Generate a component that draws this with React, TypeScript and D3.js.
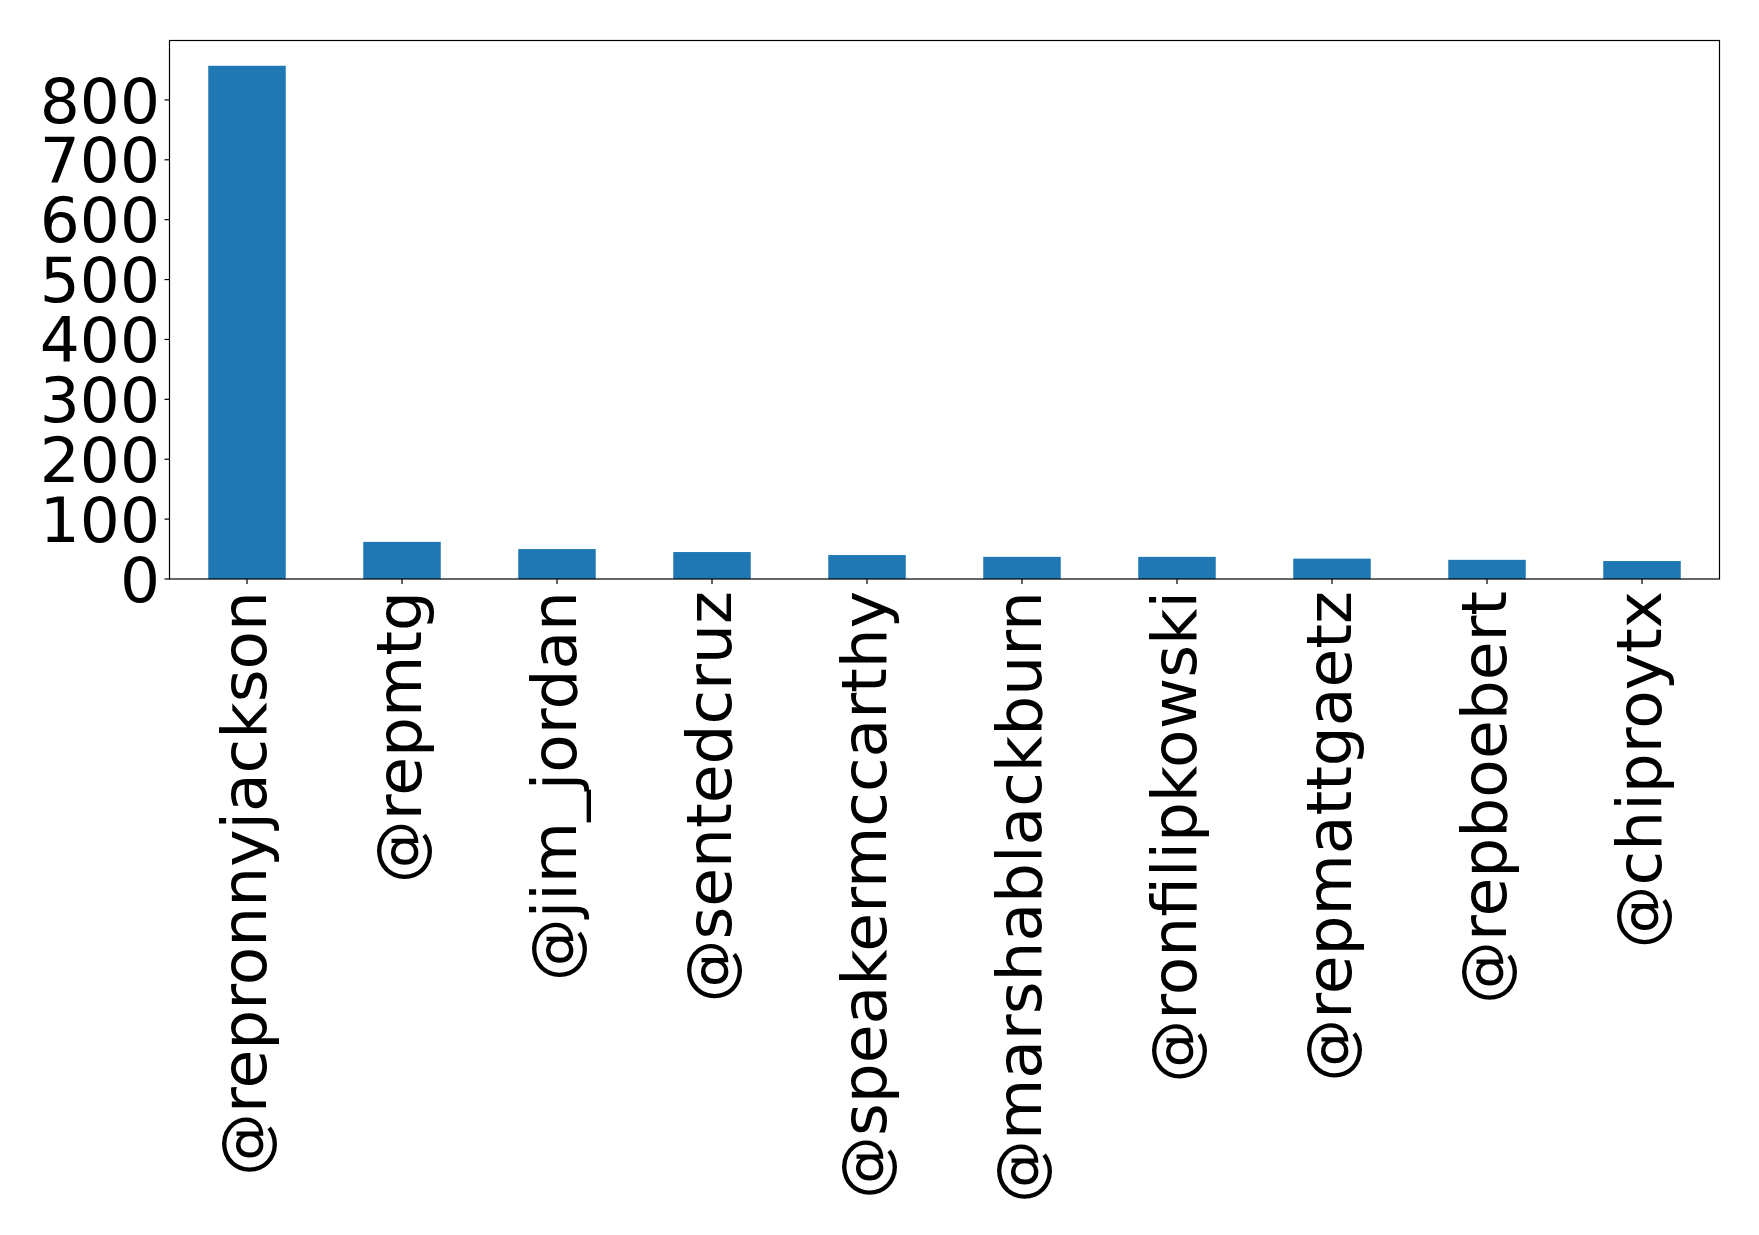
import React from "react";
import * as d3 from "d3";

const categories = [
  "@repronnyjackson",
  "@repmtg",
  "@jim_jordan",
  "@sentedcruz",
  "@speakermccarthy",
  "@marshablackburn",
  "@ronfilipkowski",
  "@repmattgaetz",
  "@repboebert",
  "@chiproytx",
];
const counts = [857, 62, 50, 45, 40, 37, 37, 34, 32, 30];
const yTicks = [0, 100, 200, 300, 400, 500, 600, 700, 800];

const W = 1759;
const H = 1235;
const left = 169.5;
const right = 1719.5;
const top = 40.5;
const bottom = 579;
const FONT = "'DejaVu Sans', sans-serif";
const FS = 63;

export default function App() {
  const x = d3
    .scaleLinear()
    .domain([-0.5, categories.length - 0.5])
    .range([left, right]);
  const y = d3.scaleLinear().domain([0, 899.2]).range([bottom, top]);
  const bw = x(0.25) - x(-0.25);

  return (
    <svg
      width={W}
      height={H}
      style={{ position: "absolute", left: 0, top: 0, background: "#fff" }}
    >
      <rect x={0} y={0} width={W} height={H} fill="#fff" />
      {counts.map((v, i) => (
        <rect
          key={i}
          x={x(i) - bw / 2}
          y={y(v)}
          width={bw}
          height={y(0) - y(v)}
          fill="#1f77b4"
        />
      ))}
      <rect
        x={left}
        y={top}
        width={right - left}
        height={bottom - top}
        fill="none"
        stroke="#000"
        strokeWidth={1.2}
      />
      {yTicks.map((t) => (
        <g key={t} transform={`translate(0,${y(t)})`}>
          <line x1={left - 5} x2={left} stroke="#000" strokeWidth={1.2} />
          <text
            x={160}
            y={0}
            dy="0.36em"
            textAnchor="end"
            fontFamily={FONT}
            fontSize={FS}
            fill="#000"
          >
            {t}
          </text>
        </g>
      ))}
      {categories.map((c, i) => (
        <g key={c}>
          <line
            x1={x(i)}
            x2={x(i)}
            y1={bottom}
            y2={bottom + 5}
            stroke="#000"
            strokeWidth={1.2}
          />
          <text
            transform={`translate(${x(i)},${591}) rotate(-90)`}
            x={0}
            y={19}
            textAnchor="end"
            fontFamily={FONT}
            fontSize={FS}
            fill="#000"
          >
            {c}
          </text>
        </g>
      ))}
    </svg>
  );
}
